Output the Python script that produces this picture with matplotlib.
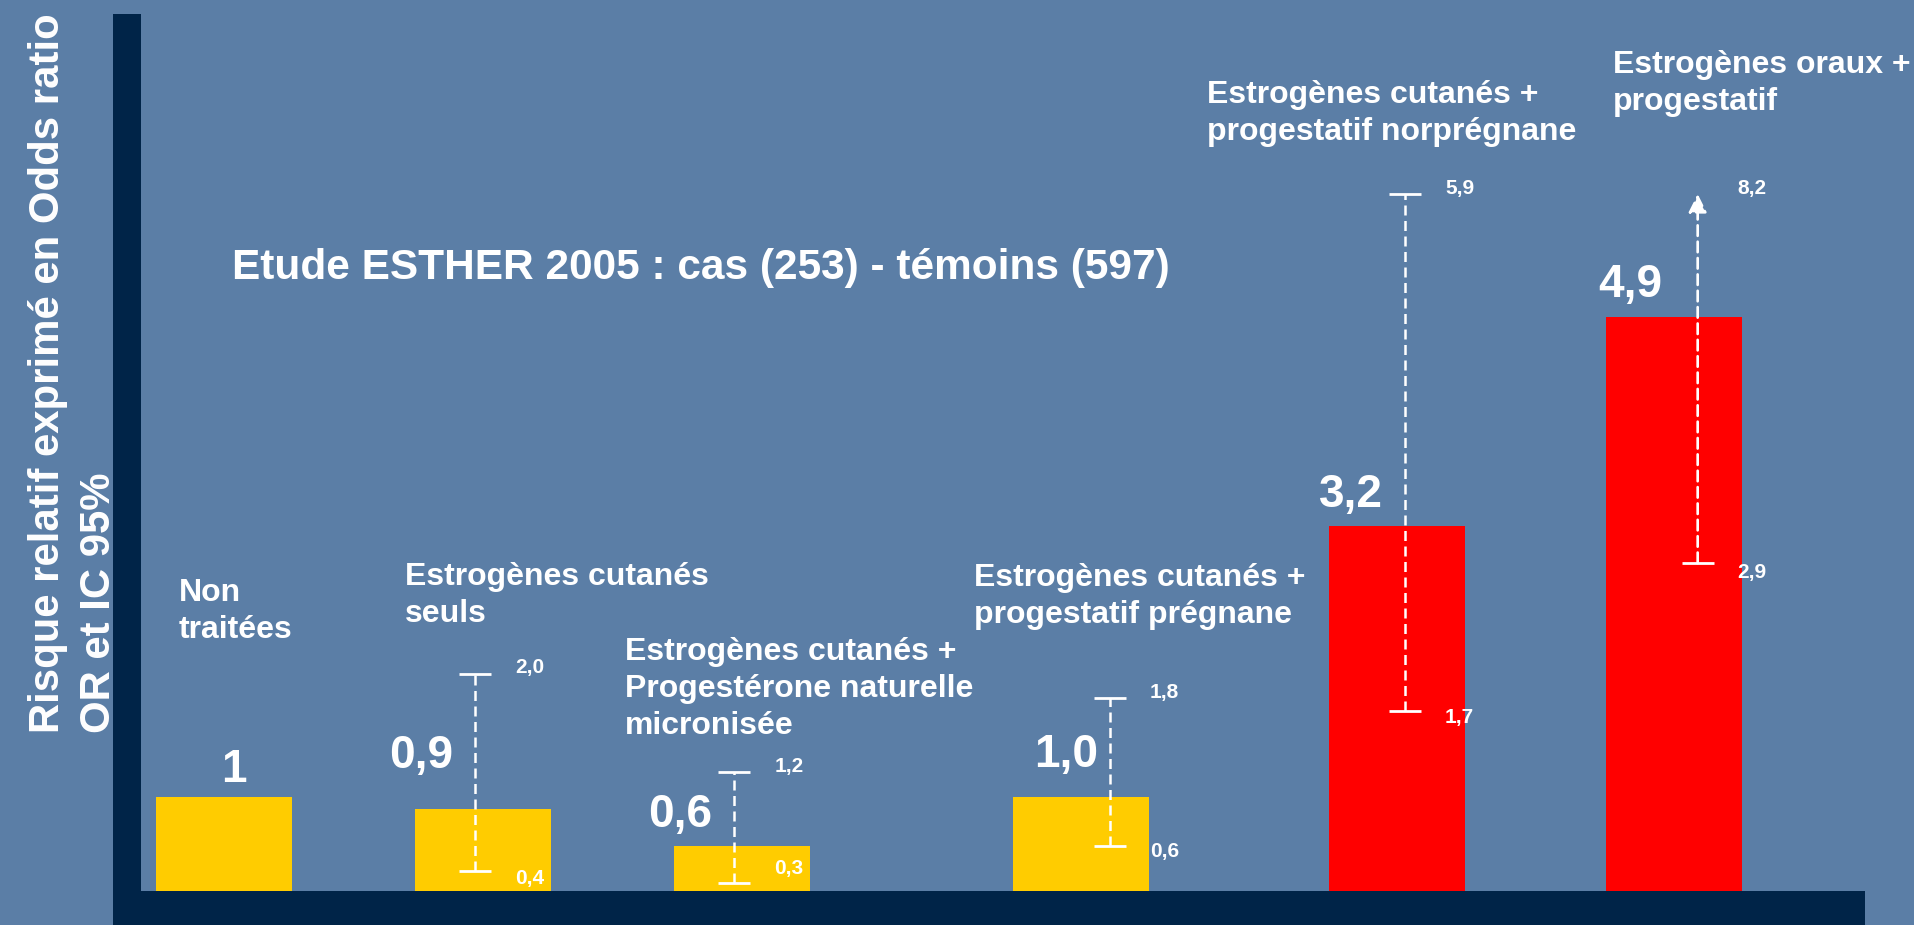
'''
Etude ESTHER 2005 : odds ratio et IC 95% selon le traitement hormonal
'''
import numpy as np
import matplotlib.pyplot as plt
from matplotlib.patches import Rectangle

# --- données ---
groupes = ['Non\ntraitées',
           'Estrogènes cutanés\nseuls',
           'Estrogènes cutanés +\nProgestérone naturelle\nmicronisée',
           'Estrogènes cutanés +\nprogestatif prégnane',
           'Estrogènes cutanés +\nprogestatif norprégnane',
           'Estrogènes oraux +\nprogestatif']
odds_ratio = [1.0, 0.9, 0.6, 1.0, 3.2, 4.9]
or_labels = ['1', '0,9', '0,6', '1,0', '3,2', '4,9']
ic_bas = [np.nan, 0.4, 0.3, 0.6, 1.7, 2.9]
ic_haut = [np.nan, 2.0, 1.2, 1.8, 5.9, 8.2]
titre = 'Etude ESTHER 2005 : cas (253) - témoins (597)'
ylabel = 'Risque relatif exprimé en Odds ratio\nOR et IC 95%'

# --- mise en page / styles ---
W, H = 1915, 925
bg = '#5b7ea6'
navy = '#002448'
bar_colors = ['#ffcc00'] * 4 + ['#ff0000'] * 2
x_pos = [0, 1, 2, 3.31, 4.53, 5.6]        # emplacement des barres (irrégulier)
bar_w = 0.525
ci_dx = [0, -0.03, -0.03, 0.11, 0.03, 0.09]  # décalage des traits d'IC
val_dx = [0.04, -0.24, -0.24, -0.06, -0.18, -0.17]
val_dy = [15, 41, 19, 30, 19, 20]             # pixels au dessus de la barre
lo_dy = [0, -8, 14, -6, -7, -9]               # position du libellé bas de l'IC
ic_affiche_max = 5.9                          # au dela -> fleche
# position (gauche, haut) des libellés en pixels
lab_pos = [(179, 578), (405, 562), (625, 637), (974, 563), (1207, 80), (1613, 50)]
font = 'Liberation Sans'


def fmt(v: float) -> str:
    return f'{v:.1f}'.replace('.', ',')


def px(x, y):
    '''pixels (origine en haut a gauche) -> fraction de figure'''
    return x / W, 1 - y / H


fig = plt.figure(figsize=(W / 100, H / 100), dpi=100, facecolor=bg)
x0, y0 = px(141, 891)
x1, y1 = px(1865, 14)
ax = fig.add_axes([x0, y0, x1 - x0, y1 - y0])
ax.set_facecolor('none')
for s in ax.spines.values():
    s.set_visible(False)
ax.set_xticks([])
ax.set_yticks([])
ax.set_xlim(-0.32, 6.336)
ax.set_ylim(0.234, 7.364)

# axes sombres
fx, fy = px(113, 925)
fig.add_artist(Rectangle((fx, 0), 28 / W, (925 - 14) / H, transform=fig.transFigure,
                         facecolor=navy, edgecolor='none', zorder=5))
fig.add_artist(Rectangle((fx, 0), (1865 - 113) / W, 34 / H, transform=fig.transFigure,
                         facecolor=navy, edgecolor='none', zorder=5))

ax.bar(x_pos, odds_ratio, width=bar_w, color=bar_colors, zorder=2)

dash = (0, (4.0, 2.2))
cap_half = 0.062
for i in range(len(odds_ratio)):
    # valeur de l'OR
    ax.annotate(or_labels[i], xy=(x_pos[i] + val_dx[i], odds_ratio[i]),
                xytext=(0, val_dy[i]), textcoords='offset pixels',
                ha='center', va='baseline', color='white', fontsize=33,
                fontweight='bold', family=font, zorder=4)
    if np.isnan(ic_bas[i]):
        continue
    cx = x_pos[i] + ci_dx[i]
    lo = ic_bas[i]
    hi = min(ic_haut[i], ic_affiche_max)
    if ic_haut[i] > ic_affiche_max:
        ax.annotate('', xy=(cx, hi), xytext=(cx, lo),
                    arrowprops=dict(arrowstyle='-|>,head_length=1.1,head_width=0.55',
                                    color='white', lw=1.9, linestyle=dash,
                                    shrinkA=0, shrinkB=0), zorder=3)
    else:
        ax.plot([cx, cx], [lo, hi], color='white', lw=1.8, linestyle=dash, zorder=3)
        ax.plot([cx - cap_half, cx + cap_half], [hi, hi], color='white', lw=2.0,
                solid_capstyle='butt', zorder=3)
    ax.plot([cx - cap_half, cx + cap_half], [lo, lo], color='white', lw=2.0,
            solid_capstyle='butt', zorder=3)
    # valeurs de l'IC
    ax.annotate(fmt(ic_haut[i]), xy=(cx, hi), xytext=(40, 6), textcoords='offset pixels',
                ha='left', va='center', color='white', fontsize=15,
                fontweight='bold', family=font, zorder=4)
    ax.annotate(fmt(ic_bas[i]), xy=(cx, lo), xytext=(40, lo_dy[i]), textcoords='offset pixels',
                ha='left', va='center', color='white', fontsize=15,
                fontweight='bold', family=font, zorder=4)

# libellés des groupes
for lab, (lx, ly) in zip(groupes, lab_pos):
    fig.text(*px(lx, ly), lab, ha='left', va='top', color='white', fontsize=23,
             fontweight='bold', family=font, linespacing=1.3)

fig.text(*px(232, 248), titre, ha='left', va='top', color='white', fontsize=30.5,
         fontweight='bold', family=font)
fig.text(*px(28, 733), ylabel, rotation=90, ha='left', va='bottom',
         multialignment='left', color='white', fontsize=30.2, fontweight='bold',
         family=font, linespacing=1.37)

fig.savefig('out.png', dpi=100, facecolor=bg)
